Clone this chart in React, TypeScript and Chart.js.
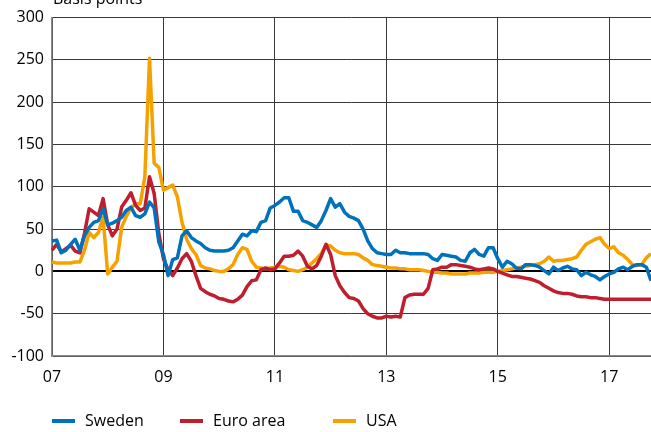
import React, { useEffect, useRef } from "react";
import { Chart, registerables } from "chart.js";

Chart.register(...registerables);

const START_YEAR = 2007;
const MONTH_COUNT = 130;
const months: string[] = [];
for (let i = 0; i < MONTH_COUNT; i++) {
  const y = START_YEAR + Math.floor(i / 12);
  const m = (i % 12) + 1;
  months.push(`${y}-${m < 10 ? "0" + m : m}`);
}

const tickLabels: Record<string, string> = {
  "2007-01": "07",
  "2009-01": "09",
  "2011-01": "11",
  "2013-01": "13",
  "2015-01": "15",
  "2017-01": "17",
};

const seriesNames = ["Sweden", "Euro area", "USA"];

const sweden = [
  36, 37, 22, 25, 32, 38, 25, 42, 52, 58, 60, 74,
  55, 57, 60, 64, 72, 76, 66, 64, 68, 82, 75, 35,
  20, -5, 14, 16, 42, 48, 40, 36, 33, 28, 25, 24,
  24, 24, 25, 28, 36, 44, 42, 48, 47, 58, 60, 75,
  78, 82, 87, 87, 71, 71, 60, 58, 55, 52, 60, 72,
  86, 76, 80, 70, 65, 63, 60, 50, 36, 27, 22, 21,
  20, 20, 25, 22, 22, 21, 21, 21, 21, 20, 15, 13,
  20, 19, 18, 17, 13, 12, 22, 26, 20, 18, 28, 28,
  15, 5, 12, 9, 4, 3, 8, 8, 7, 5, 1, -3,
  5, 1, 4, 6, 3, 2, -5, -1, -4, -6, -10, -6,
  -3, -1, 3, 5, 2, 6, 8, 8, 5, -11,
];

const euroArea = [
  25, 32, 23, 27, 31, 24, 22, 45, 74, 70, 66, 86,
  55, 42, 50, 76, 84, 93, 78, 72, 75, 112, 92, 45,
  15, 2, -5, 4, 15, 21, 12, -5, -20, -24, -27, -29,
  -32, -33, -35, -36, -33, -28, -18, -11, -10, 2, 4, 2,
  3, 10, 18, 18, 19, 24, 18, 6, 3, 7, 18, 32,
  20, -5, -17, -25, -31, -32, -35, -44, -50, -53, -55, -55,
  -53, -54, -53, -54, -31, -28, -27, -27, -27, -20, 2, 3,
  5, 5, 8, 8, 7, 6, 5, 3, 2, 3, 4, 3,
  0, -2, -4, -6, -6, -7, -8, -9, -11, -13, -17, -20,
  -23, -25, -26, -26, -27, -29, -30, -30, -31, -31, -32, -33,
  -33, -33, -33, -33, -33, -33, -33, -33, -33, -33,
];

const usa = [
  11, 10, 10, 10, 10, 11, 11, 25, 46, 40, 46, 64,
  -3, 5, 12, 52, 65, 75, 80, 80, 112, 252, 128, 123,
  96, 99, 102, 88, 58, 38, 27, 20, 7, 4, 3, 1,
  0, 0, 3, 8, 20, 28, 26, 12, 5, 4, 3, 4,
  5, 6, 5, 2, 1, 0, 2, 5, 10, 15, 21, 31,
  30, 25, 22, 21, 21, 21, 20, 16, 13, 8, 7, 6,
  5, 4, 4, 3, 3, 2, 2, 2, 1, 0, -1, -1,
  -2, -2, -3, -3, -3, -3, -2, -2, -2, -1, -1, -1,
  0, 1, 2, 3, 4, 5, 6, 7, 8, 9, 12, 17,
  12, 13, 13, 14, 15, 17, 25, 32, 35, 38, 40, 32,
  27, 29, 22, 19, 14, 8, 7, 8, 16, 21,
];

const colors = ["#0072bb", "#be1e2d", "#f7a100"];
const FONT = '"Open Sans", sans-serif';
const legendOffsets = [0, 128, 281];

const overlayPlugin = {
  id: "overlay",
  afterDraw(chart: any) {
    const ctx = chart.ctx as CanvasRenderingContext2D;
    const left = chart.chartArea.left;
    ctx.save();
    ctx.font = `16px ${FONT}`;
    ctx.fillStyle = "#000";
    ctx.textBaseline = "alphabetic";
    ctx.textAlign = "left";
    ctx.fillText("Basis points", left + 1, 4);
    ctx.textBaseline = "middle";
    seriesNames.forEach((name, i) => {
      const x = left + legendOffsets[i];
      ctx.fillStyle = colors[i];
      ctx.fillRect(x, 419, 23, 4);
      ctx.fillStyle = "#000";
      ctx.fillText(name, x + 33, 421);
    });
    ctx.restore();
  },
};

export default function App() {
  const ref = useRef<HTMLCanvasElement>(null);
  useEffect(() => {
    document.body.style.margin = "0";
    const canvas = ref.current!;
    const chart = new Chart(canvas, {
      type: "line",
      data: {
        labels: months,
        datasets: [
          { label: seriesNames[0], data: sweden, borderColor: colors[0] },
          { label: seriesNames[1], data: euroArea, borderColor: colors[1] },
          { label: seriesNames[2], data: usa, borderColor: colors[2] },
        ].map((d) => ({
          ...d,
          borderWidth: 3.5,
          pointRadius: 0,
          tension: 0,
          fill: false,
          borderJoinStyle: "round" as const,
        })),
      },
      options: {
        responsive: false,
        animation: false,
        layout: { padding: { top: 16, right: 0, bottom: 44, left: 0 } },
        plugins: {
          legend: { display: false },
          tooltip: { enabled: false },
          title: { display: false },
        },
        scales: {
          x: {
            type: "category",
            offset: false,
            afterFit: (s: any) => {
              s.height = 32;
              s.paddingRight = 0;
              s.paddingLeft = 0;
            },
            grid: {
              drawTicks: false,
              color: (c: any) =>
                c.tick && tickLabels[months[c.index]] ? "#3a3a3a" : "rgba(0,0,0,0)",
              lineWidth: 1,
            },
            border: { display: true, color: "#8a8a8a", width: 1.5 },
            ticks: {
              autoSkip: false,
              maxRotation: 0,
              minRotation: 0,
              padding: 12,
              color: "#000",
              font: { family: FONT, size: 16 },
              callback: (_v: any, i: number) => tickLabels[months[i]] || "",
            },
          },
          y: {
            min: -100,
            max: 300,
            afterFit: (s: any) => {
              s.width = 52;
            },
            grid: {
              drawTicks: false,
              color: (c: any) => (c.tick && c.tick.value === 0 ? "#000" : "#3a3a3a"),
              lineWidth: (c: any) => (c.tick && c.tick.value === 0 ? 2 : 1),
            },
            border: { display: true, color: "#8a8a8a", width: 1.5 },
            ticks: {
              stepSize: 50,
              padding: 8,
              color: "#000",
              font: { family: FONT, size: 16 },
            },
          },
        },
      },
      plugins: [overlayPlugin],
    });
    return () => chart.destroy();
  }, []);
  return <canvas ref={ref} width={651} height={432} style={{ display: "block" }} />;
}
